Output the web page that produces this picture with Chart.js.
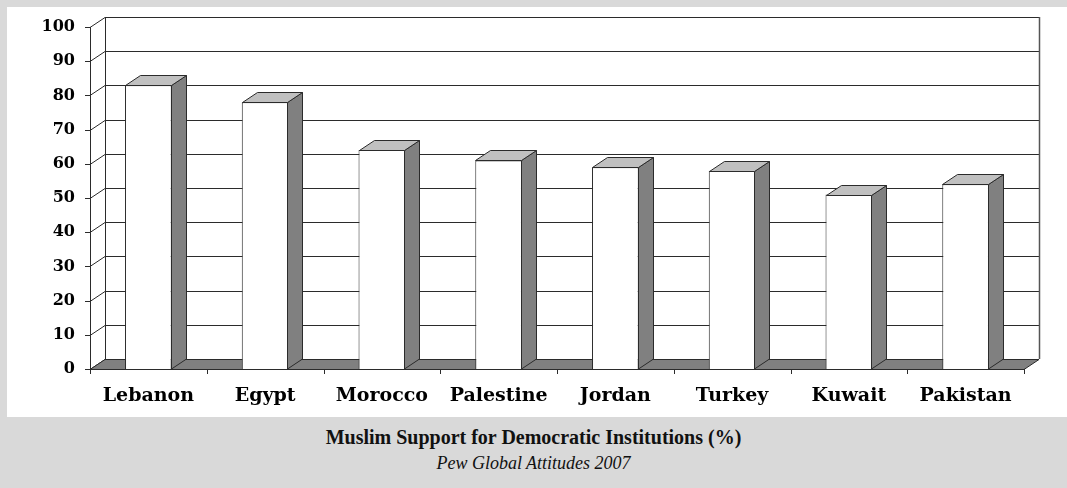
<!DOCTYPE html>
<html lang="en">
<head>
<meta charset="utf-8">
<script src="https://cdn.jsdelivr.net/npm/chart.js"></script>
<style>
    body { margin: 0; width: 1067px; height: 488px; overflow: hidden; position: relative; background: #d9d9d9; }
    #panel { position: absolute; left: 7px; top: 7px; width: 1060px; height: 410px; background: #fff; }
    #supportChart { position: absolute; left: 0; top: 0; }
    .caption { position: absolute; left: 0; width: 1067px; text-align: center; font-family: "Liberation Serif", serif; color: #111; }
    #chartTitle { top: 425px; line-height: 24px; font-size: 20px; font-weight: bold; }
    #chartSource { top: 452px; line-height: 22px; font-size: 18px; font-style: italic; }
</style>
</head>
<body>

    <div id="panel"></div>
    <canvas id="supportChart" width="1067" height="420"></canvas>

    <div class="caption" id="chartTitle">Muslim Support for Democratic Institutions (%)</div>
    <div class="caption" id="chartSource">Pew Global Attitudes 2007</div>

    <script>
        const countries = ["Lebanon", "Egypt", "Morocco", "Palestine", "Jordan", "Turkey", "Kuwait", "Pakistan"];
        const support = [83, 78, 64, 61, 59, 58, 51, 54];
        const yTicks = [0, 10, 20, 30, 40, 50, 60, 70, 80, 90, 100];

        // depth of the fake 3D box (back wall is shifted right and up)
        const DX = 15;
        const DY = -10;
        const LINE = "#2b2b2b";

        function line(ctx, x1, y1, x2, y2) {
            ctx.beginPath();
            ctx.moveTo(x1, y1);
            ctx.lineTo(x2, y2);
            ctx.stroke();
        }

        function poly(ctx, pts, fill) {
            ctx.beginPath();
            ctx.moveTo(pts[0][0], pts[0][1]);
            for (let i = 1; i < pts.length; i++) ctx.lineTo(pts[i][0], pts[i][1]);
            ctx.closePath();
            ctx.fillStyle = fill;
            ctx.fill();
            ctx.stroke();
        }

        // walls, floor, gridlines and ticks
        const wallsPlugin = {
            id: "walls",
            beforeDatasetsDraw(chart) {
                const { ctx, chartArea: a, scales: { x, y } } = chart;
                const y0 = y.getPixelForValue(0);
                const yTop = y.getPixelForValue(100);
                ctx.save();
                ctx.strokeStyle = LINE;
                ctx.lineWidth = 1;

                yTicks.forEach(v => {
                    const py = Math.round(y.getPixelForValue(v)) + 0.5;
                    line(ctx, a.left + DX, py + DY, a.right + DX, py + DY);   // back wall gridline
                    line(ctx, a.left, py, a.left + DX, py + DY);               // side wall diagonal
                    line(ctx, a.left - 5, py, a.left, py);                     // tick mark
                });

                // floor
                poly(ctx, [[a.left, y0 + 0.5], [a.left + DX, y0 + DY + 0.5], [a.right + DX, y0 + DY + 0.5], [a.right, y0 + 0.5]], "#808080");

                // wall edges and front axis
                line(ctx, a.left + DX + 0.5, yTop + DY, a.left + DX + 0.5, y0 + DY);
                ctx.strokeStyle = "#555";
                ctx.lineWidth = 1.5;
                line(ctx, a.right + DX + 0.5, yTop + DY, a.right + DX + 0.5, y0 + DY);
                ctx.strokeStyle = LINE;
                ctx.lineWidth = 1;
                line(ctx, a.left + 0.5, yTop, a.left + 0.5, y0);

                // category ticks
                const step = a.width / countries.length;
                for (let i = 0; i <= countries.length; i++) {
                    const px = Math.round(a.left + i * step) + 0.5;
                    line(ctx, px, y0, px, y0 + 5);
                }
                ctx.restore();
            },
            afterDatasetsDraw(chart) {
                const { ctx } = chart;
                ctx.save();
                ctx.strokeStyle = LINE;
                ctx.lineWidth = 1;
                chart.getDatasetMeta(0).data.forEach(bar => {
                    const p = bar.getProps(["x", "y", "base", "width"], true);
                    const l = Math.round(p.x - p.width / 2) + 0.5;
                    const r = Math.round(p.x + p.width / 2) - 0.5;
                    const t = Math.round(p.y) + 0.5;
                    const b = Math.round(p.base);
                    poly(ctx, [[r, t], [r + DX, t + DY], [r + DX, b + DY], [r, b]], "#808080");   // side
                    poly(ctx, [[l, t], [l + DX, t + DY], [r + DX, t + DY], [r, t]], "#c0c0c0");   // top
                });
                ctx.restore();
            }
        };

        const ctx = document.getElementById("supportChart").getContext("2d");

        new Chart(ctx, {
            type: "bar",
            data: {
                labels: countries,
                datasets: [{
                    data: support,
                    backgroundColor: "#ffffff",
                    borderColor: LINE,
                    borderWidth: 1,
                    categoryPercentage: 1,
                    barPercentage: 0.4
                }]
            },
            options: {
                responsive: false,
                animation: false,
                devicePixelRatio: 1,
                layout: { padding: { left: 0, top: 27, right: 43, bottom: 0 } },
                plugins: {
                    legend: { display: false },
                    tooltip: { enabled: false }
                },
                scales: {
                    x: {
                        grid: { display: false },
                        border: { display: false },
                        ticks: {
                            color: "#000",
                            padding: 8,
                            maxRotation: 0,
                            font: { family: "DejaVu Serif", weight: "bold", size: 19 }
                        },
                        afterFit(scale) { scale.height = 420 - 369; }
                    },
                    y: {
                        min: 0,
                        max: 100,
                        grid: { display: false },
                        border: { display: false },
                        afterBuildTicks(scale) { scale.ticks = yTicks.map(v => ({ value: v })); },
                        ticks: {
                            color: "#000",
                            padding: 7,
                            font: { family: "DejaVu Serif", weight: "bold", size: 16 }
                        },
                        afterFit(scale) { scale.width = 90; }
                    }
                }
            },
            plugins: [wallsPlugin]
        });
    </script>

</body>
</html>
